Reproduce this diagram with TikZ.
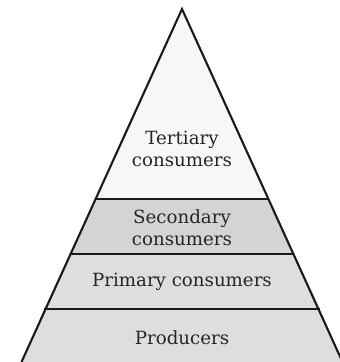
\documentclass[tikz,border=0pt]{standalone}
\usepackage{fontspec}
\setmainfont{DejaVu Serif}
\begin{document}
\begin{tikzpicture}[x=1pt,y=-1pt,
  layer/.style={draw=black!90,line width=2.1pt,line join=miter},
  lbl/.style={font=\fontsize{18.2}{22}\selectfont,text=black!85,align=center,inner sep=0pt}]
\useasboundingbox (0,0) rectangle (340,362);
\coordinate (A) at (182,9);
% producers
\fill[black!13] (44,309) -- (320,309) -- (342.5,362) -- (21.5,362) -- cycle;
% primary
\fill[black!13] (70,254) -- (294,254) -- (320,309) -- (44,309) -- cycle;
% secondary
\fill[black!17] (96,199) -- (268,199) -- (294,254) -- (70,254) -- cycle;
% tertiary
\fill[black!3] (A) -- (268,199) -- (96,199) -- cycle;
\draw[layer] (21.5,362) -- (A) -- (342.5,362);
\draw[layer] (96,199) -- (268,199);
\draw[layer] (70,254) -- (294,254);
\draw[layer] (44,309) -- (320,309);
\node[lbl] (t) at (182,149) {Tertiary\\consumers};
\node[lbl] (s) at (182,228) {Secondary\\consumers};
\node[lbl] (p) at (182,282) {Primary consumers};
\node[lbl] (r) at (182,338) {Producers};
\end{tikzpicture}
\end{document}
